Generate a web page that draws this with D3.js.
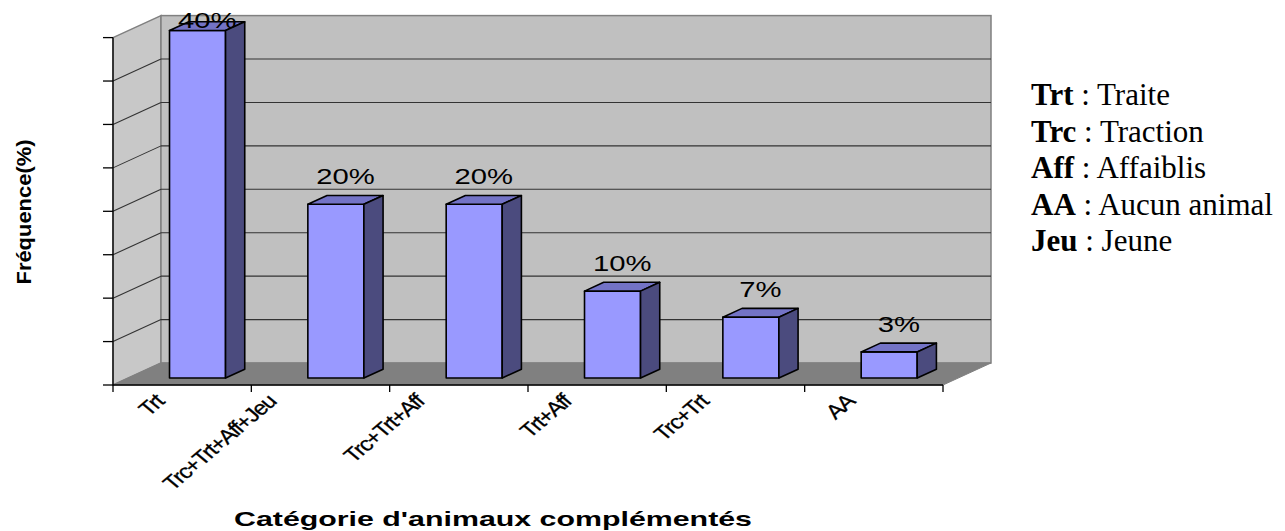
<!DOCTYPE html>
<html><head><meta charset="utf-8">
<script src="https://cdn.jsdelivr.net/npm/d3@7/dist/d3.min.js"></script>
<style>body{margin:0;background:#fff}svg{display:block}</style>
</head><body>
<svg id="c" width="1285" height="531"></svg>
<script>
const categories = ["Trt","Trc+Trt+Aff+Jeu","Trc+Trt+Aff","Trt+Aff","Trc+Trt","AA"];
const values = [40,20,20,10,7,3];
const valueLabels = ["40%","20%","20%","10%","7%","3%"];
const yTicks = [0,5,10,15,20,25,30,35,40];
const legendKeys = ["Trt","Trc","Aff","AA","Jeu"];
const legendTexts = [" : Traite"," : Traction"," : Affaiblis"," : Aucun animal"," : Jeune"];
const xTitle = "Catégorie d'animaux complémentés";
const yTitle = "Fréquence(%)";

const svg = d3.select("#c");
const DX = 48, DY = -22;          // depth vector of the 3D box
const x = d3.scaleBand().domain(categories).range([113, 943]);
const y = d3.scaleLinear().domain([0, 40]).range([385, 37.6]);
const y0 = y(0);
const yTop = y(40);

// side wall
svg.append("path")
  .attr("d", `M${x.range()[0]},${yTop}L${x.range()[0]+DX},${yTop+DY}L${x.range()[0]+DX},${y0+DY}L${x.range()[0]},${y0}Z`)
  .attr("fill", "#c8c8c8").attr("stroke", "#808080").attr("stroke-width", 1.5);
// back wall
svg.append("rect")
  .attr("x", x.range()[0]+DX).attr("y", yTop+DY)
  .attr("width", x.range()[1]-x.range()[0]).attr("height", y0-yTop)
  .attr("fill", "#c0c0c0").attr("stroke", "#808080").attr("stroke-width", 1.5);
// floor
svg.append("path")
  .attr("d", `M${x.range()[0]},${y0}L${x.range()[0]+DX},${y0+DY}L${x.range()[1]+DX},${y0+DY}L${x.range()[1]},${y0}Z`)
  .attr("fill", "#808080").attr("stroke", "#808080");

// gridlines
const grid = svg.append("g").attr("stroke", "#333").attr("stroke-width", 1.1);
yTicks.slice(1, -1).forEach(t => {
  grid.append("line").attr("x1", x.range()[0]).attr("y1", y(t))
    .attr("x2", x.range()[0]+DX).attr("y2", y(t)+DY);
  grid.append("line").attr("x1", x.range()[0]+DX).attr("y1", y(t)+DY)
    .attr("x2", x.range()[1]+DX).attr("y2", y(t)+DY);
});

// bars
const d1 = 0.32, dd = 0.4;
const bw = x.bandwidth()*0.405;
const bdx = dd*DX, bdy = dd*DY;
const bars = svg.append("g").attr("stroke", "#000").attr("stroke-width", 1.6).attr("stroke-linejoin","round");
categories.forEach((c, i) => {
  const x1 = x(c) + x.bandwidth()/2 - bw/2 + d1*DX;
  const x2 = x1 + bw;
  const yb = y0 + d1*DY;
  const yt = y(values[i]) + d1*DY;
  const g = bars.append("g");
  g.append("rect").attr("x", x1).attr("y", yt).attr("width", bw).attr("height", yb-yt).attr("fill", "#9999ff");
  g.append("path").attr("d", `M${x1},${yt}L${x2},${yt}L${x2+bdx},${yt+bdy}L${x1+bdx},${yt+bdy}Z`).attr("fill", "#7373c6");
  g.append("path").attr("d", `M${x2},${yt}L${x2+bdx},${yt+bdy}L${x2+bdx},${yb+bdy}L${x2},${yb}Z`).attr("fill", "#4b4b7e");
  const lx = x1 + bw/2 + bdx/2;
  const ly = Math.max(yt - 20, 28);
  svg.append("text").attr("transform", `translate(${lx},${ly}) scale(1.3,1)`)
    .attr("text-anchor", "middle").attr("font-family", "Liberation Sans, Arial, sans-serif")
    .attr("font-size", 22.5).attr("fill", "#000").text(valueLabels[i]);
});

// y axis (front-left)
const ya = svg.append("g").attr("stroke", "#000").attr("stroke-width", 1.3);
ya.append("line").attr("x1", x.range()[0]).attr("x2", x.range()[0]).attr("y1", yTop).attr("y2", y0);
yTicks.forEach(t => ya.append("line").attr("x1", x.range()[0]-10).attr("x2", x.range()[0]).attr("y1", y(t)).attr("y2", y(t)));

// x axis (front)
const xa = svg.append("g").attr("stroke", "#000").attr("stroke-width", 1.3);
xa.append("line").attr("x1", x.range()[0]).attr("x2", x.range()[1]).attr("y1", y0).attr("y2", y0);
const edges = categories.map(c => x(c)).concat([x.range()[1]]);
edges.forEach(e => xa.append("line").attr("x1", e).attr("x2", e).attr("y1", y0).attr("y2", y0+7));

// x tick labels (rotated)
categories.forEach(c => {
  const t = svg.append("text").attr("font-family", "Liberation Sans, Arial, sans-serif")
    .attr("font-size", 20).attr("letter-spacing", -1.2).attr("text-anchor", "end")
    .attr("fill", "#000").attr("stroke", "#000").attr("stroke-width", 0.3).text(c);
  const len = t.node().getComputedTextLength();
  const px = x(c) + x.bandwidth()/2 - 12 - 0.25*len;
  t.attr("transform", `translate(${px},403) scale(1.18,1) rotate(-45)`);
});

// axis titles
svg.append("text").attr("x", 493).attr("y", 526).attr("text-anchor", "middle")
  .attr("font-family", "Liberation Sans, Arial, sans-serif").attr("font-weight", "bold")
  .attr("font-size", 21).attr("textLength", 518).attr("lengthAdjust", "spacingAndGlyphs").text(xTitle);
svg.append("text").attr("transform", "translate(31,212) rotate(-90)").attr("text-anchor", "middle")
  .attr("font-family", "Liberation Sans, Arial, sans-serif").attr("font-weight", "bold")
  .attr("font-size", 21).attr("textLength", 145).attr("lengthAdjust", "spacingAndGlyphs").text(yTitle);

// legend text block
const lg = svg.append("g").attr("font-family", "Liberation Serif, Times New Roman, serif").attr("font-size", 31);
legendKeys.forEach((k, i) => {
  const t = lg.append("text").attr("x", 1031).attr("y", 105 + i*36.5);
  t.append("tspan").attr("font-weight", "bold").text(k);
  t.append("tspan").text(legendTexts[i]);
});
</script>
</body></html>
